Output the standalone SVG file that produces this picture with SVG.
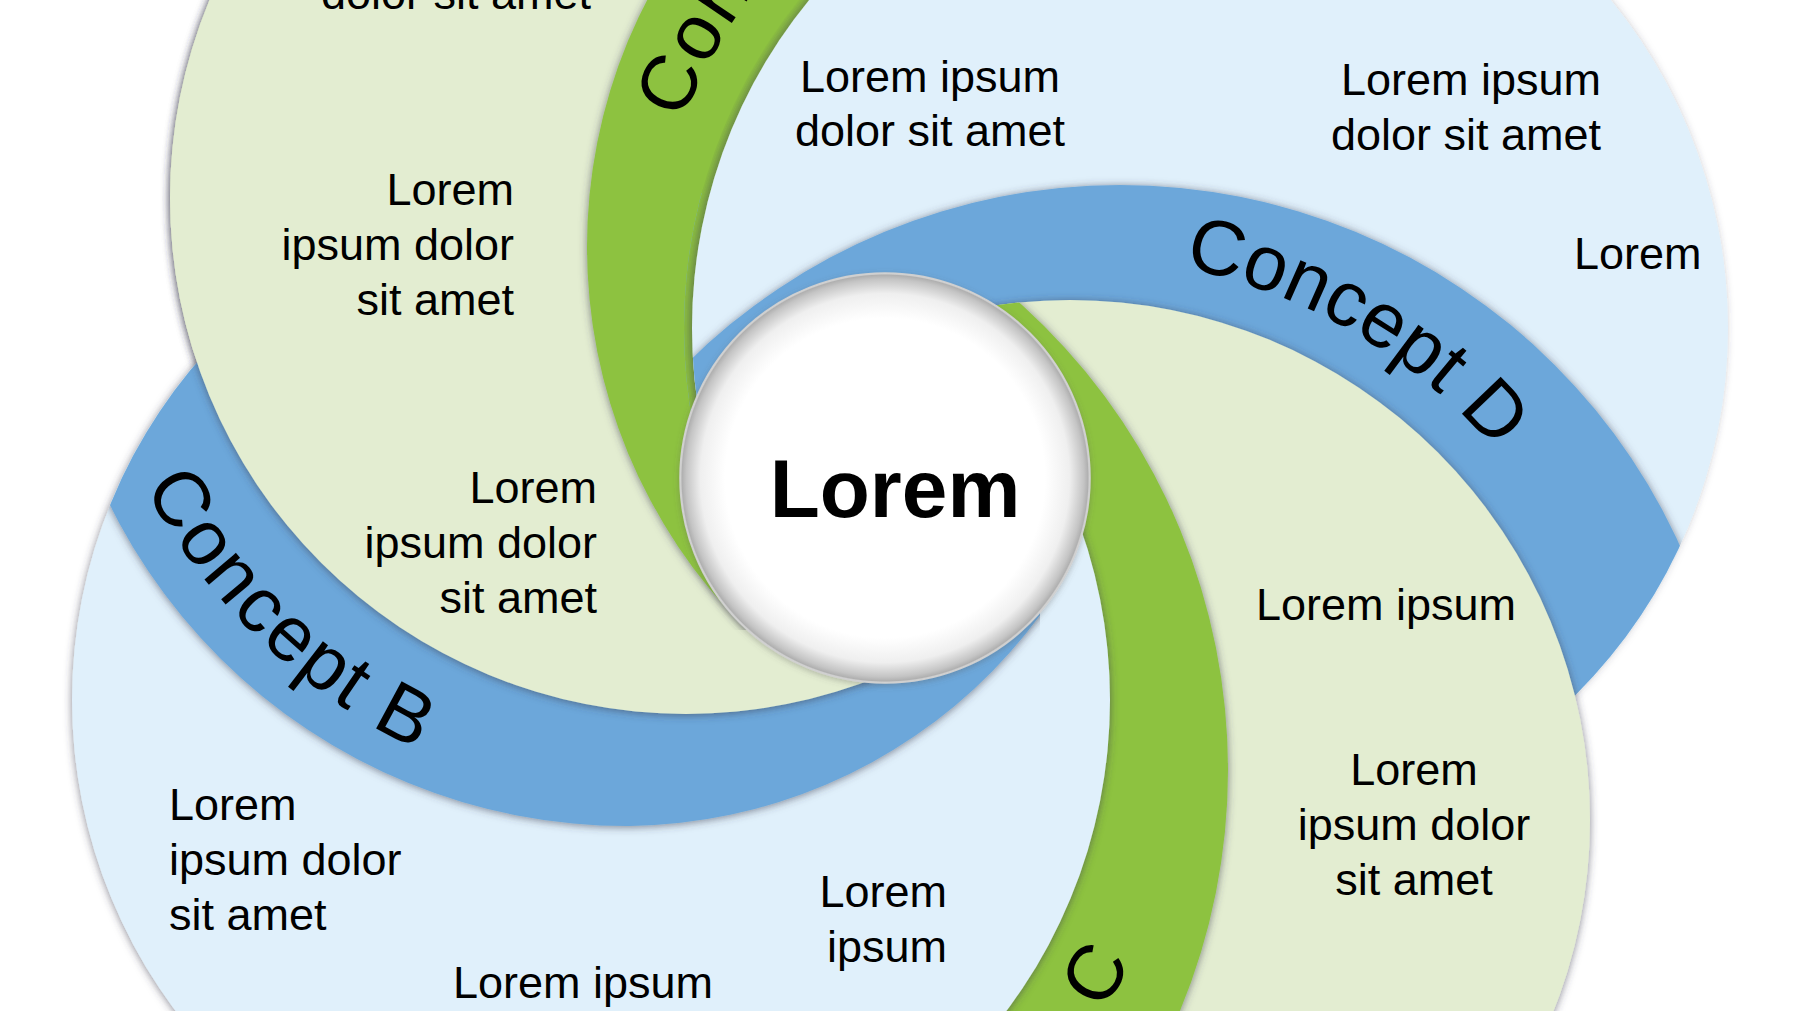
<svg xmlns="http://www.w3.org/2000/svg" xmlns:xlink="http://www.w3.org/1999/xlink" width="1798" height="1011" viewBox="0 0 1798 1011">
<defs>
  <style>
    .t{font-family:"Liberation Sans",Arial,sans-serif;font-size:45px;fill:#000}
    .c{font-family:"Liberation Sans",Arial,sans-serif;font-size:78px;letter-spacing:2.5px;fill:#000}
    .lg{fill:#E3EDD1}
    .lb{fill:#E0F0FB}
    .gb{fill:#8DC241}
    .bb{fill:#6CA7DA}
  </style>
  <filter id="sh" x="-10%" y="-10%" width="120%" height="120%">
    <feDropShadow dx="0" dy="1" stdDeviation="4.5" flood-color="#3a3a50" flood-opacity="0.62"/>
  </filter>
  <filter id="shL" x="-10%" y="-10%" width="120%" height="120%">
    <feDropShadow dx="-3" dy="0" stdDeviation="4" flood-color="#3a3a50" flood-opacity="0.5"/>
  </filter>
  <filter id="shC" x="-10%" y="-10%" width="120%" height="120%">
    <feDropShadow dx="0" dy="2" stdDeviation="3" flood-color="#555" flood-opacity="0.35"/>
  </filter>
  <clipPath id="clipC1"><circle cx="686" cy="198" r="516"/></clipPath>
  <clipPath id="clipC2"><circle cx="1210" cy="328" r="518"/></clipPath>
  <clipPath id="clipC3"><circle cx="1070" cy="820" r="520"/></clipPath>
  <clipPath id="clipC4"><circle cx="591" cy="700" r="519"/></clipPath>
  <clipPath id="clipTop"><rect x="-200" y="-400" width="2200" height="1030"/></clipPath>
  <clipPath id="clipLeft"><rect x="-200" y="-400" width="1240" height="1600"/></clipPath>
  <mask id="mC4" maskUnits="userSpaceOnUse" x="0" y="0" width="1798" height="1011">
    <rect width="1798" height="1011" fill="#fff"/>
    <circle cx="1210" cy="328" r="526" fill="#000"/>
    <circle cx="1070" cy="820" r="520" fill="#fff"/>
  </mask>
  <mask id="mS1" maskUnits="userSpaceOnUse" x="0" y="0" width="1798" height="1011">
    <rect width="1798" height="1011" fill="#fff"/>
    <circle cx="1210" cy="328" r="526" fill="#000"/>
    <rect x="760" y="640" width="200" height="120" fill="#fff"/>
  </mask>
  <radialGradient id="gCenter" cx="50%" cy="50%" r="50%">
    <stop offset="0" stop-color="#ffffff"/>
    <stop offset="0.78" stop-color="#ffffff"/>
    <stop offset="0.9" stop-color="#efefef"/>
    <stop offset="0.97" stop-color="#c4c4c4"/>
    <stop offset="0.99" stop-color="#b0b0b0"/>
    <stop offset="1" stop-color="#e4e4e4"/>
  </radialGradient>
  <g id="s1">
    <circle class="lg" cx="686" cy="198" r="516" filter="url(#sh)"/>
    <g clip-path="url(#clipTop)">
      <circle class="gb" cx="1125" cy="247" r="538" filter="url(#sh)" clip-path="url(#clipC1)"/>
    </g>
  </g>
  <path id="pA" d="M 682.1 121.1 A 567 567 0 0 1 1493.5 -163"/>
  <path id="pD" d="M 1183.4 267.5 A 564 564 0 0 1 1600 1012.9"/>
  <path id="pB" d="M 144.4 487.2 A 614 614 0 0 0 993 729.7"/>
  <path id="pC" d="M 881.9 1224.8 A 600 600 0 0 0 1132.1 959.3"/>
</defs>

<rect width="1798" height="1011" fill="#ffffff"/>

<g id="concept-a-base">
  <use xlink:href="#s1" href="#s1"/>
</g>

<g id="concept-a-circle">
  <circle class="lb" cx="1210" cy="328" r="518" filter="url(#shL)"/>
  <circle id="band-d" class="bb" cx="1120" cy="800" r="615" filter="url(#sh)" clip-path="url(#clipC2)"/>
</g>

<g id="concept-d-circle">
  <circle class="lg" cx="1070" cy="820" r="520" filter="url(#sh)"/>
  <circle id="band-c" class="gb" cx="600" cy="770" r="628" filter="url(#sh)" clip-path="url(#clipC3)"/>
</g>

<g id="concept-c-circle" mask="url(#mC4)">
  <circle class="lb" cx="591" cy="700" r="519" filter="url(#sh)"/>
  <g clip-path="url(#clipLeft)">
    <path id="band-b" class="bb" d="M 630 826 A 577 577 0 0 1 50 250 A 577 577 0 0 1 627 -327 L 1141 -327 L 1141 307 A 518 518 0 0 1 630 826 Z" filter="url(#sh)" clip-path="url(#clipC4)"/>
  </g>
</g>

<g id="concept-b-circle" mask="url(#mS1)">
  <use xlink:href="#s1" href="#s1"/>
</g>

<g id="center">
  <circle cx="885" cy="478" r="205" fill="url(#gCenter)" stroke="#d0d0d0" stroke-width="1.5" filter="url(#shC)"/>
  <text x="895" y="517" text-anchor="middle" style="font-family:'Liberation Sans',Arial,sans-serif;font-size:82px;font-weight:bold;fill:#000">Lorem</text>
</g>

<g id="labels">
  <text class="c"><textPath xlink:href="#pA" href="#pA">Concept A</textPath></text>
  <text class="c" style="letter-spacing:0px"><textPath xlink:href="#pD" href="#pD">Concept D</textPath></text>
  <text class="c"><textPath xlink:href="#pB" href="#pB">Concept B</textPath></text>
  <text class="c" text-anchor="end"><textPath xlink:href="#pC" href="#pC" startOffset="100%">Concept C</textPath></text>
</g>

<g id="texts">
  <text class="t" x="591" y="9" text-anchor="end">dolor sit amet</text>
  <text class="t" text-anchor="end"><tspan x="514" y="205">Lorem</tspan><tspan x="514" y="260">ipsum dolor</tspan><tspan x="514" y="315">sit amet</tspan></text>
  <text class="t" text-anchor="end"><tspan x="597" y="503">Lorem</tspan><tspan x="597" y="558">ipsum dolor</tspan><tspan x="597" y="613">sit amet</tspan></text>
  <text class="t" text-anchor="middle"><tspan x="930" y="92">Lorem ipsum</tspan><tspan x="930" y="146">dolor sit amet</tspan></text>
  <text class="t" text-anchor="end"><tspan x="1601" y="95">Lorem ipsum</tspan><tspan x="1601" y="150">dolor sit amet</tspan></text>
  <text class="t" x="1574" y="269">Lorem</text>
  <text class="t" x="1256" y="620">Lorem ipsum</text>
  <text class="t" text-anchor="middle"><tspan x="1414" y="785">Lorem</tspan><tspan x="1414" y="840">ipsum dolor</tspan><tspan x="1414" y="895">sit amet</tspan></text>
  <text class="t"><tspan x="169" y="820">Lorem</tspan><tspan x="169" y="875">ipsum dolor</tspan><tspan x="169" y="930">sit amet</tspan></text>
  <text class="t" text-anchor="end"><tspan x="947" y="907">Lorem</tspan><tspan x="947" y="962">ipsum</tspan></text>
  <text class="t" x="453" y="998">Lorem ipsum</text>
</g>
</svg>
